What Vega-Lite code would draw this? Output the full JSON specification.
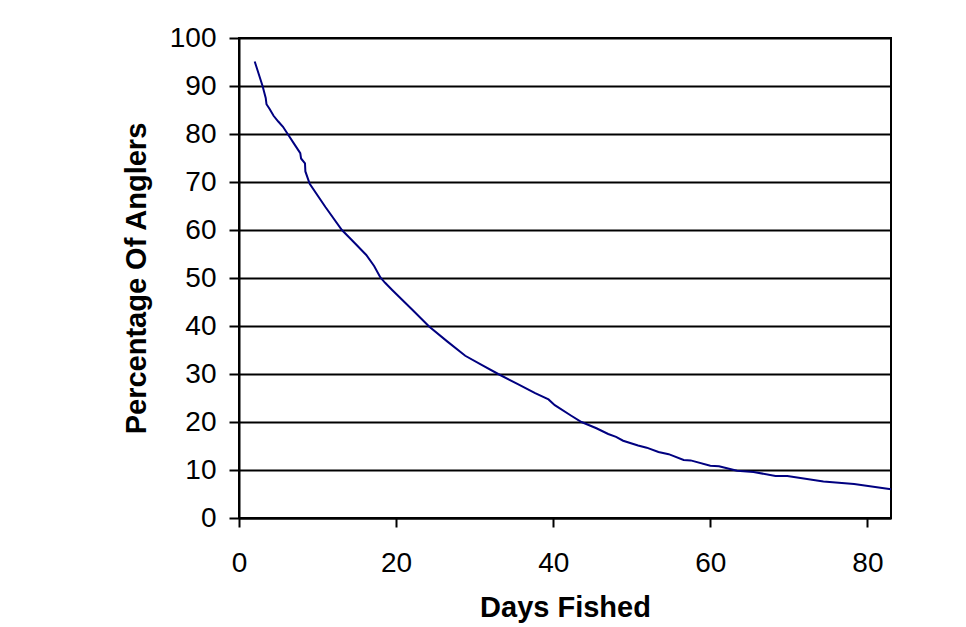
{
  "$schema": "https://vega.github.io/schema/vega-lite/v6.json",
  "autosize": "none",
  "width": 652,
  "height": 480,
  "padding": {"left": 239, "top": 38, "right": 75, "bottom": 109},
  "background": "white",
  "config": {
    "view": {"stroke": "black", "strokeWidth": 2},
    "font": "Liberation Sans",
    "axis": {
      "labelFont": "Liberation Sans",
      "titleFont": "Liberation Sans",
      "labelColor": "black",
      "titleColor": "black",
      "domainColor": "black",
      "tickColor": "black",
      "domainWidth": 2,
      "tickWidth": 2,
      "labelFontSize": 28,
      "titleFontSize": 29,
      "titleFontWeight": "bold"
    }
  },
  "data": {
    "values": [
      {"days": 2.0, "pct": 95.1},
      {"days": 3.0, "pct": 90.0},
      {"days": 3.4, "pct": 87.5},
      {"days": 3.5, "pct": 86.2},
      {"days": 3.9, "pct": 85.2},
      {"days": 4.4, "pct": 83.8},
      {"days": 5.0, "pct": 82.6},
      {"days": 5.6, "pct": 81.5},
      {"days": 6.2, "pct": 80.0},
      {"days": 7.0, "pct": 78.0},
      {"days": 7.8, "pct": 76.0},
      {"days": 7.9, "pct": 74.9},
      {"days": 8.4, "pct": 73.9},
      {"days": 8.45, "pct": 72.2},
      {"days": 9.0, "pct": 69.6},
      {"days": 11.0, "pct": 64.8},
      {"days": 13.1, "pct": 60.0},
      {"days": 14.6, "pct": 57.5},
      {"days": 16.2, "pct": 54.8},
      {"days": 17.2, "pct": 52.5},
      {"days": 18.0, "pct": 50.1},
      {"days": 18.6, "pct": 49.0},
      {"days": 19.5, "pct": 47.5},
      {"days": 22.0, "pct": 43.5},
      {"days": 24.2, "pct": 39.9},
      {"days": 26.5, "pct": 36.8},
      {"days": 28.8, "pct": 33.8},
      {"days": 31.0, "pct": 31.8},
      {"days": 33.0, "pct": 30.0},
      {"days": 35.5, "pct": 27.9},
      {"days": 37.7, "pct": 26.0},
      {"days": 39.4, "pct": 24.7},
      {"days": 40.2, "pct": 23.5},
      {"days": 42.3, "pct": 21.3},
      {"days": 43.6, "pct": 20.0},
      {"days": 45.5, "pct": 18.7},
      {"days": 47.0, "pct": 17.5},
      {"days": 48.0, "pct": 16.9},
      {"days": 48.9, "pct": 16.1},
      {"days": 50.8, "pct": 15.1},
      {"days": 51.9, "pct": 14.65},
      {"days": 53.4, "pct": 13.75},
      {"days": 54.7, "pct": 13.3},
      {"days": 56.6, "pct": 12.1},
      {"days": 57.5, "pct": 12.0},
      {"days": 60.0, "pct": 10.9},
      {"days": 61.1, "pct": 10.8},
      {"days": 63.4, "pct": 9.85},
      {"days": 65.5, "pct": 9.6},
      {"days": 68.3, "pct": 8.75},
      {"days": 69.8, "pct": 8.75},
      {"days": 74.4, "pct": 7.6},
      {"days": 78.3, "pct": 7.1},
      {"days": 83.0, "pct": 6.0}
    ]
  },
  "mark": {"type": "line", "color": "#000080", "strokeWidth": 2},
  "encoding": {
    "x": {
      "field": "days",
      "type": "quantitative",
      "title": "Days Fished",
      "scale": {"domain": [0, 83], "nice": false, "zero": false},
      "axis": {
        "values": [0, 20, 40, 60, 80],
        "grid": false,
        "tickSize": 9,
        "labelPadding": 22,
        "titlePadding": 16,
        "labelFlush": false
      }
    },
    "y": {
      "field": "pct",
      "type": "quantitative",
      "title": "Percentage Of Anglers",
      "scale": {"domain": [0, 100], "nice": false},
      "axis": {
        "values": [0, 10, 20, 30, 40, 50, 60, 70, 80, 90, 100],
        "grid": true,
        "gridColor": "black",
        "gridWidth": 2,
        "gridOpacity": 1,
        "tickSize": 10,
        "labelPadding": 13,
        "titlePadding": 18,
        "labelFlush": false
      }
    }
  }
}
